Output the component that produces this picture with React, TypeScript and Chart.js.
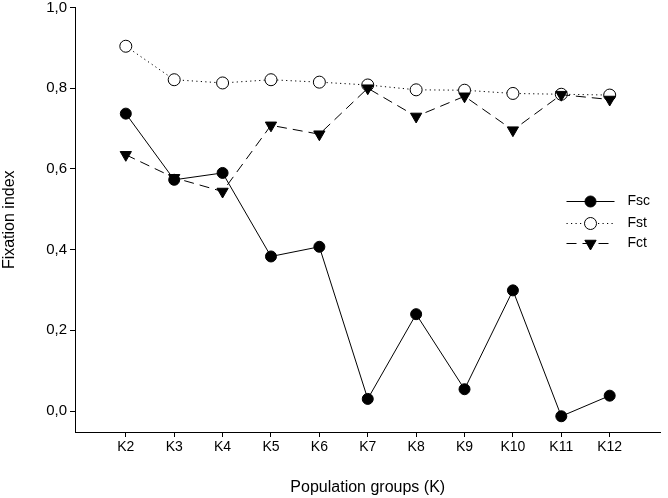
import React, { useEffect, useRef } from "react";
import { Chart, registerables } from "chart.js";
import { drawPoint } from "chart.js/helpers";

Chart.register(...registerables);

const categories = ["K2", "K3", "K4", "K5", "K6", "K7", "K8", "K9", "K10", "K11", "K12"];
const categoryPositions = [2, 3, 4, 5, 6, 7, 8, 9, 10, 11, 12];
const fscValues = [0.737, 0.573, 0.59, 0.383, 0.407, 0.03, 0.24, 0.054, 0.299, -0.013, 0.038];
const fstValues = [0.904, 0.821, 0.813, 0.821, 0.815, 0.808, 0.796, 0.795, 0.787, 0.785, 0.783];
const fctValues = [0.635, 0.578, 0.544, 0.708, 0.686, 0.8, 0.73, 0.78, 0.696, 0.784, 0.772];
const yTickValues = [0, 0.2, 0.4, 0.6, 0.8, 1.0];
const yTickLabels = ["0,0", "0,2", "0,4", "0,6", "0,8", "1,0"];

const FONT = "'Liberation Sans', Arial, sans-serif";

const legendPlugin = {
  id: "insideLegend",
  afterDraw(chart: any) {
    const { ctx, chartArea } = chart;
    const x0 = chartArea.right - 94;
    const x1 = chartArea.right - 46;
    const xm = (x0 + x1) / 2;
    const tx = chartArea.right - 33;
    const rows = [chartArea.top + 194, chartArea.top + 216, chartArea.top + 236];
    ctx.save();
    chart.data.datasets.forEach((ds: any, i: number) => {
      const y = rows[i];
      ctx.beginPath();
      ctx.setLineDash(ds.borderDash || []);
      ctx.lineWidth = ds.borderWidth;
      ctx.strokeStyle = ds.borderColor;
      ctx.moveTo(x0, y);
      ctx.lineTo(x1, y);
      ctx.stroke();
      ctx.setLineDash([]);
      ctx.fillStyle = ds.pointBackgroundColor;
      ctx.strokeStyle = ds.pointBorderColor;
      ctx.lineWidth = ds.pointBorderWidth;
      drawPoint(
        ctx,
        { pointStyle: ds.pointStyle, rotation: ds.pointRotation || 0, radius: ds.pointRadius, borderWidth: ds.pointBorderWidth },
        xm,
        y
      );
      ctx.fillStyle = "#000";
      ctx.font = `14px ${FONT}`;
      ctx.textAlign = "left";
      ctx.textBaseline = "middle";
      ctx.fillText(ds.label, tx, y);
    });
    ctx.restore();
  },
};

export default function App() {
  const ref = useRef<HTMLCanvasElement>(null);
  useEffect(() => {
    if (!ref.current) return;
    const mk = (arr: number[]) => arr.map((v, i) => ({ x: categoryPositions[i], y: v }));
    const chart = new Chart(ref.current, {
      type: "line",
      data: {
        datasets: [
          {
            label: "Fsc",
            data: mk(fscValues),
            borderColor: "#000",
            borderWidth: 1,
            pointStyle: "circle",
            pointRadius: 5.5,
            pointBackgroundColor: "#000",
            pointBorderColor: "#000",
            pointBorderWidth: 1,
            order: 0,
          },
          {
            label: "Fst",
            data: mk(fstValues),
            borderColor: "#000",
            borderWidth: 1,
            borderDash: [1.2, 3.3],
            pointStyle: "circle",
            pointRadius: 6,
            pointBackgroundColor: "#fff",
            pointBorderColor: "#000",
            pointBorderWidth: 1,
            order: 2,
          },
          {
            label: "Fct",
            data: mk(fctValues),
            borderColor: "#000",
            borderWidth: 1,
            borderDash: [10, 6],
            pointStyle: "triangle",
            pointRotation: 180,
            pointRadius: 6.5,
            pointBackgroundColor: "#000",
            pointBorderColor: "#000",
            pointBorderWidth: 1,
            order: 1,
          },
        ] as any,
      },
      options: {
        animation: false,
        responsive: false,
        layout: { padding: { top: 6, right: 0, left: 0, bottom: 0 } },
        plugins: { legend: { display: false }, tooltip: { enabled: false } },
        scales: {
          x: {
            type: "linear",
            min: 0.95,
            max: 13.05,
            afterBuildTicks: (axis: any) => {
              axis.ticks = categoryPositions.map((v) => ({ value: v }));
            },
            afterFit: (axis: any) => {
              axis.height = 66;
              axis.paddingLeft = 0;
              axis.paddingRight = 0;
            },
            grid: { drawOnChartArea: false, drawTicks: true, tickLength: 5, tickColor: "#000", tickWidth: 1 },
            border: { display: true, color: "#000", width: 1 },
            ticks: {
              color: "#000",
              font: { family: FONT, size: 14 },
              padding: 2,
              maxRotation: 0,
              autoSkip: false,
              callback: (v: any) => {
                const i = categoryPositions.indexOf(Number(v));
                return i >= 0 ? categories[i] : "";
              },
            },
            title: {
              display: true,
              text: "Population groups (K)",
              color: "#000",
              font: { family: FONT, size: 16 },
              padding: { top: 0, bottom: 1 },
            },
          },
          y: {
            type: "linear",
            min: -0.052,
            max: 1.0,
            afterBuildTicks: (axis: any) => {
              axis.ticks = yTickValues.map((v) => ({ value: v }));
            },
            afterFit: (axis: any) => {
              axis.width = 75;
              axis.paddingTop = 0;
              axis.paddingBottom = 0;
            },
            grid: { drawOnChartArea: false, drawTicks: true, tickLength: 5, tickColor: "#000", tickWidth: 1 },
            border: { display: true, color: "#000", width: 1 },
            ticks: {
              color: "#000",
              font: { family: FONT, size: 15 },
              padding: 3,
              callback: (v: any) => {
                const i = yTickValues.findIndex((t) => Math.abs(t - Number(v)) < 1e-6);
                return i >= 0 ? yTickLabels[i] : "";
              },
            },
            title: {
              display: true,
              text: "Fixation index",
              color: "#000",
              font: { family: FONT, size: 16 },
              padding: { top: 0, bottom: 0 },
            },
          },
        },
      },
      plugins: [legendPlugin],
    });
    return () => chart.destroy();
  }, []);
  return (
    <div style={{ position: "fixed", left: 0, top: 0, width: 668, height: 498, background: "#fff" }}>
      <canvas ref={ref} width={668} height={498} style={{ width: 668, height: 498, display: "block" }} />
    </div>
  );
}
